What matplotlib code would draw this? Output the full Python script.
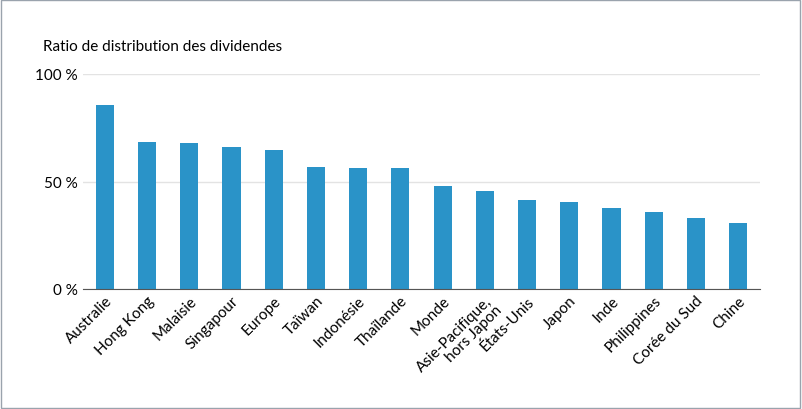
import matplotlib
matplotlib.use("Agg")
import matplotlib.pyplot as plt
from matplotlib.patches import Rectangle

categories = ["Australie", "Hong Kong", "Malaisie", "Singapour", "Europe", "Taïwan",
              "Indonésie", "Thaïlande", "Monde", "Asie-Pacifique,\nhors Japon", "États-Unis",
              "Japon", "Inde", "Philippines", "Corée du Sud", "Chine"]
values = [85.6, 68.4, 67.9, 66.0, 64.7, 56.7, 56.3, 56.3, 47.9, 45.6, 41.4, 40.5, 37.7, 35.8, 33.0, 30.7]
yticks = [0, 50, 100]
yticklabels = ["0 %", "50 %", "100 %"]

plt.rcParams["font.family"] = "Lato"
fig = plt.figure(figsize=(8.02, 4.10), dpi=100)
fig.patches.append(Rectangle((0.001, 0.002), 0.997, 0.996, transform=fig.transFigure,
                             fill=False, edgecolor="#9aa3ad", linewidth=1))
ax = fig.add_axes([83/802, 1-290/410, (760-83)/802, 215/410])
x = range(len(categories))
ax.bar(x, values, width=0.43, color="#2a93c8", zorder=2)
ax.set_xlim(-0.52, len(categories) - 0.48)
ax.set_ylim(0, 100)
ax.set_yticks(yticks)
ax.set_yticklabels(yticklabels, fontsize=11)
ax.grid(axis="y", color="#e3e3e3", linewidth=1, zorder=0)
for s in ["top", "right", "left"]:
    ax.spines[s].set_visible(False)
ax.spines["bottom"].set_color("#555555")
ax.tick_params(axis="y", length=0, pad=4)
ax.tick_params(axis="x", length=0, pad=3)
ax.set_xticks(list(x))
ax.set_xticklabels(categories, rotation=45, ha="right", rotation_mode="anchor", fontsize=11,
                   linespacing=0.95)
fig.text(43/802, 1-47/410, "Ratio de distribution des dividendes", fontsize=11, va="center")
fig.savefig("out.png", dpi=100)
